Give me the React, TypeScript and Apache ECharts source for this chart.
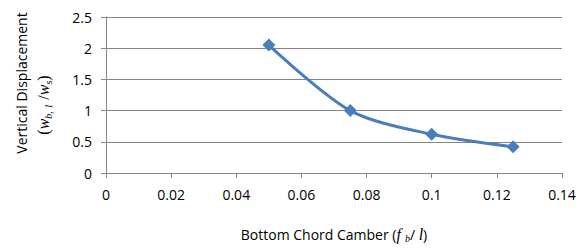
import React, { useEffect, useRef } from "react";
import * as echarts from "echarts";

const camber = [0.05, 0.075, 0.1, 0.125];
const displacement = [2.05, 1.0, 0.62, 0.42];
const xTitle = "Bottom Chord Camber";
const yTitle = "Vertical Displacement";

export default function App() {
  const ref = useRef<HTMLDivElement>(null);
  useEffect(() => {
    const chart = echarts.init(ref.current!, undefined, { renderer: "svg" });
    const axisGrey = "#868686";
    const serif = { fontFamily: "Liberation Serif", fontSize: 16, fill: "#000" };
    chart.setOption({
      animation: false,
      backgroundColor: "#fff",
      grid: { left: 106, right: 19, top: 17, bottom: 77, outerBoundsMode: "none", containLabel: false },
      graphic: [
        {
          type: "text",
          x: 21,
          y: 83,
          rotation: Math.PI / 2,
          style: { text: yTitle, fontFamily: "Open Sans", fontSize: 14, fill: "#000", align: "center", verticalAlign: "middle" },
        },
        {
          type: "text",
          x: 43,
          y: 105,
          rotation: Math.PI / 2,
          style: {
            text: "{p|(}{i|w}{s|b, 1}{p| /}{i|w}{s|s}{p|)}",
            align: "center",
            verticalAlign: "middle",
            rich: {
              p: { ...serif, lineHeight: 20 },
              i: { ...serif, fontStyle: "italic", lineHeight: 20 },
              s: { fontFamily: "Liberation Serif", fontStyle: "italic", fontSize: 10, fill: "#000", verticalAlign: "bottom", padding: [7, 0, 0, 0] },
            },
          },
        },
      ],
      xAxis: {
        type: "value",
        min: 0,
        max: 0.14,
        interval: 0.02,
        axisLine: { show: true, onZero: false, lineStyle: { color: axisGrey } },
        axisTick: { show: true, length: 5, lineStyle: { color: axisGrey } },
        splitLine: { show: false },
        axisLabel: {
          color: "#000",
          fontFamily: "Open Sans",
          fontSize: 14,
          margin: 14,
          formatter: (v: number) => String(Math.round(v * 100) / 100),
        },
        name: `{t|${xTitle} (}{i|f }{s|b}{t|/ }{i|l}{t|)}`,
        nameLocation: "middle",
        nameGap: 53,
        nameTextStyle: {
          rich: {
            t: { fontFamily: "Open Sans", fontSize: 14, color: "#000" },
            i: { fontFamily: "Liberation Serif", fontStyle: "italic", fontSize: 16, color: "#000" },
            s: { fontFamily: "Liberation Serif", fontStyle: "italic", fontSize: 10, color: "#000", verticalAlign: "bottom", padding: [7, 0, 0, 0] },
          },
        },
      },
      yAxis: {
        type: "value",
        min: 0,
        max: 2.5,
        interval: 0.5,
        axisLine: { show: true, lineStyle: { color: axisGrey } },
        axisTick: { show: true, length: 5, lineStyle: { color: axisGrey } },
        splitLine: { show: true, lineStyle: { color: axisGrey } },
        axisLabel: { color: "#000", fontFamily: "Open Sans", fontSize: 14, margin: 14 },
      },
      series: [
        {
          type: "line",
          data: camber.map((c, i) => [c, displacement[i]]),
          smooth: 0.3,
          symbol: "diamond",
          symbolSize: 13,
          lineStyle: { color: "#4a7ebb", width: 3 },
          itemStyle: { color: "#4a7ebb" },
        },
      ],
    });
    return () => chart.dispose();
  }, []);
  return <div ref={ref} style={{ width: 581, height: 250, position: "absolute", left: 0, top: 0 }} />;
}
